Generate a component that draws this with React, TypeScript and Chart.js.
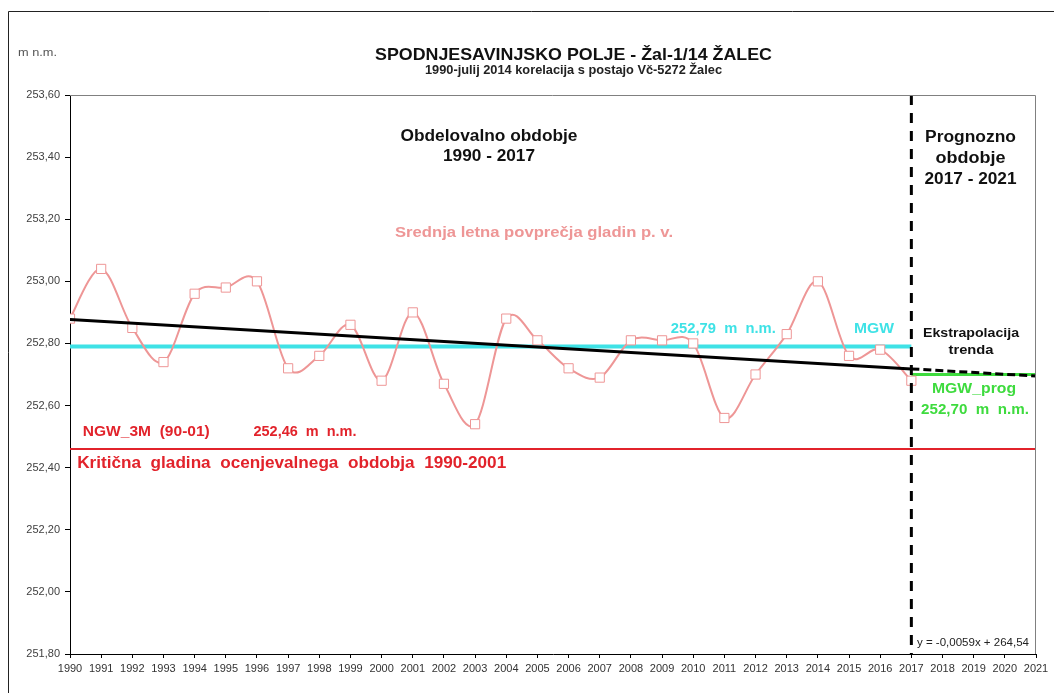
import React, { useEffect, useRef } from "react";
import { Chart, registerables } from "chart.js";

Chart.register(...registerables);

// ---- data ----
const years = [1990, 1991, 1992, 1993, 1994, 1995, 1996, 1997, 1998, 1999, 2000, 2001, 2002, 2003, 2004, 2005, 2006, 2007, 2008, 2009, 2010, 2011, 2012, 2013, 2014, 2015, 2016, 2017];
const levels = [252.88, 253.04, 252.85, 252.74, 252.96, 252.98, 253.0, 252.72, 252.76, 252.86, 252.68, 252.9, 252.67, 252.54, 252.88, 252.81, 252.72, 252.69, 252.81, 252.81, 252.8, 252.56, 252.7, 252.83, 253.0, 252.76, 252.78, 252.68];
const mgwYears = [1990, 2017];
const mgwValue = 252.79;
const ngwYears = [1990, 2021];
const ngwValue = 252.46;
const trendYears = [1990, 2017];
const trendValues = [252.877, 252.718];
const extrapYears = [2017, 2021];
const extrapValues = [252.718, 252.695];
const progYears = [2017, 2021];
const progValue = 252.7;
const splitYear = 2017;
const yMin = 251.8;
const yMax = 253.6;
const xMin = 1990;
const xMax = 2021;

const PINK = "#EE9696";
const CYAN = "#3FE2E6";
const RED = "#E2232B";
const GREEN = "#3EDB3E";
const FONT = "'Liberation Sans', Arial, sans-serif";
const SMOOTH_K = 1 / 6;

function fitText(ctx: CanvasRenderingContext2D, text: string, cx: number, baseline: number, font: string, color: string, targetWidth: number) {
  ctx.save();
  ctx.font = font;
  const w = ctx.measureText(text).width;
  const s = targetWidth ? targetWidth / w : 1;
  ctx.translate(cx, baseline);
  ctx.scale(s, 1);
  ctx.textAlign = "center";
  ctx.textBaseline = "alphabetic";
  ctx.fillStyle = color;
  ctx.fillText(text, 0, 0);
  ctx.restore();
}

// Excel-like (uniform Catmull-Rom) smoothing of the measured series
const smoothPlugin = {
  id: "excelSmooth",
  beforeDatasetDraw(chart: any, args: any) {
    const meta = args.meta;
    const ds = chart.data.datasets[args.index];
    if (!ds || ds.label !== "levels" || !meta.dataset) return;
    const line = meta.dataset;
    line.updateControlPoints(chart.chartArea, meta.iScale.axis);
    const pts = meta.data;
    const n = pts.length;
    for (let i = 0; i < n; i++) {
      const p = pts[i];
      const prev = pts[Math.max(0, i - 1)];
      const next = pts[Math.min(n - 1, i + 1)];
      const dx = (next.x - prev.x) * SMOOTH_K;
      const dy = (next.y - prev.y) * SMOOTH_K;
      p.cp1x = p.x - dx;
      p.cp1y = p.y - dy;
      p.cp2x = p.x + dx;
      p.cp2y = p.y + dy;
    }
    line._pointsUpdated = true;
    line._path = undefined;
  },
};

const decorPlugin = {
  id: "decor",
  afterDraw(chart: any) {
    const ctx: CanvasRenderingContext2D = chart.ctx;
    const a = chart.chartArea;
    ctx.save();
    // outer frame
    ctx.strokeStyle = "#222";
    ctx.lineWidth = 1;
    ctx.beginPath();
    ctx.moveTo(8.5, 693);
    ctx.lineTo(8.5, 11.5);
    ctx.lineTo(1054, 11.5);
    ctx.stroke();
    // plot area top/right border
    ctx.strokeStyle = "#808080";
    ctx.beginPath();
    ctx.moveTo(a.left, a.top + 0.5);
    ctx.lineTo(a.right - 0.5, a.top + 0.5);
    ctx.lineTo(a.right - 0.5, a.bottom);
    ctx.stroke();
    ctx.restore();

    const B = (s: number) => `bold ${s}px ${FONT}`;
    fitText(ctx, "m n.m.", 37.5, 56, `10px ${FONT}`, "#555", 39);
    fitText(ctx, "SPODNJESAVINJSKO POLJE - Žal-1/14 ŽALEC", 573.5, 60, B(17), "#111", 397);
    fitText(ctx, "1990-julij 2014 korelacija s postajo Vč-5272 Žalec", 573.5, 73.5, B(12), "#222", 297);
    fitText(ctx, "Obdelovalno obdobje", 489, 141, B(16), "#111", 177);
    fitText(ctx, "1990 - 2017", 489, 161, B(16), "#111", 92);
    fitText(ctx, "Srednja letna povprečja gladin p. v.", 534, 237, B(15), PINK, 278);
    fitText(ctx, "252,79  m  n.m.", 723.3, 332.5, B(14), CYAN, 105);
    fitText(ctx, "MGW", 874, 332.5, B(14), CYAN, 40);
    fitText(ctx, "Ekstrapolacija", 971, 337, B(13), "#111", 96);
    fitText(ctx, "trenda", 971, 353.5, B(13), "#111", 45);
    fitText(ctx, "MGW_prog", 974, 393, B(14), GREEN, 84);
    fitText(ctx, "252,70  m  n.m.", 975, 414, B(14), GREEN, 108);
    fitText(ctx, "NGW_3M  (90-01)", 146.3, 436, B(15), RED, 127);
    fitText(ctx, "252,46  m  n.m.", 305, 436, B(15), RED, 103);
    fitText(ctx, "Kritična  gladina  ocenjevalnega  obdobja  1990-2001", 291.7, 468, B(16), RED, 429);
    fitText(ctx, "Prognozno", 970.5, 142, B(16), "#111", 91);
    fitText(ctx, "obdobje", 970.5, 163, B(16), "#111", 70);
    fitText(ctx, "2017 - 2021", 970.5, 184, B(16), "#111", 92);
    fitText(ctx, "y = -0,0059x + 264,54", 973, 646, `10px ${FONT}`, "#222", 112);
  },
};

export default function App() {
  const ref = useRef<HTMLCanvasElement | null>(null);
  useEffect(() => {
    document.body.style.margin = "0";
    const canvas = ref.current!;
    const line = (xs: number[], ys: number[]) => xs.map((x, i) => ({ x, y: ys[i] }));
    const chart = new Chart(canvas, {
      type: "line",
      data: {
        datasets: [
          {
            label: "split",
            data: line([splitYear, splitYear], [yMax, yMin]),
            borderColor: "#000",
            borderWidth: 3,
            borderDash: [10, 8],
            pointRadius: 0,
            order: 0,
          },
          {
            label: "trend",
            data: line(trendYears, trendValues),
            borderColor: "#000",
            borderWidth: 3,
            pointRadius: 0,
            order: 1,
          },
          {
            label: "extrap",
            data: line(extrapYears, extrapValues),
            borderColor: "#000",
            borderWidth: 3,
            borderDash: [8, 4],
            pointRadius: 0,
            order: 1,
          },
          {
            label: "levels",
            data: line(years, levels),
            borderColor: PINK,
            borderWidth: 2,
            tension: 0.4,
            pointStyle: "rect",
            pointRadius: 6.5,
            pointBorderWidth: 1,
            pointBorderColor: PINK,
            pointBackgroundColor: "#fff",
            order: 2,
          },
          {
            label: "MGW",
            data: line(mgwYears, [mgwValue, mgwValue]),
            borderColor: CYAN,
            borderWidth: 4,
            pointRadius: 0,
            order: 3,
          },
          {
            label: "prog",
            data: line(progYears, [progValue, progValue]),
            borderColor: GREEN,
            borderWidth: 3,
            pointRadius: 0,
            order: 3,
          },
          {
            label: "NGW",
            data: line(ngwYears, [ngwValue, ngwValue]),
            borderColor: RED,
            borderWidth: 2,
            pointRadius: 0,
            order: 4,
          },
        ],
      },
      options: {
        responsive: false,
        animation: false,
        events: [],
        layout: { padding: { top: 95, right: 18, left: 0, bottom: 0 } },
        plugins: { legend: { display: false }, tooltip: { enabled: false }, title: { display: false } },
        scales: {
          x: {
            type: "linear",
            min: xMin,
            max: xMax,
            afterFit: (s: any) => { s.height = 39; },
            ticks: {
              stepSize: 1,
              autoSkip: false,
              maxRotation: 0,
              padding: 4,
              color: "#333",
              font: { family: FONT, size: 11 },
              callback: (v: any) => String(v),
            },
            grid: { drawOnChartArea: false, drawTicks: true, tickLength: 4, color: "#000" },
            border: { display: true, color: "#000", width: 1 },
          },
          y: {
            type: "linear",
            min: yMin,
            max: yMax,
            afterFit: (s: any) => { s.width = 70; },
            ticks: {
              stepSize: 0.2,
              padding: 5,
              color: "#404040",
              font: { family: FONT, size: 11 },
              callback: (v: any) => Number(v).toFixed(2).replace(".", ","),
            },
            grid: { drawOnChartArea: false, drawTicks: true, tickLength: 5, color: "#000" },
            border: { display: true, color: "#000", width: 1 },
          },
        },
      },
      plugins: [smoothPlugin, decorPlugin],
    });
    return () => chart.destroy();
  }, []);
  return (
    <div style={{ position: "absolute", left: 0, top: 0, width: 1054, height: 693, background: "#fff" }}>
      <canvas ref={ref} width={1054} height={693} style={{ width: 1054, height: 693, display: "block" }} />
    </div>
  );
}
